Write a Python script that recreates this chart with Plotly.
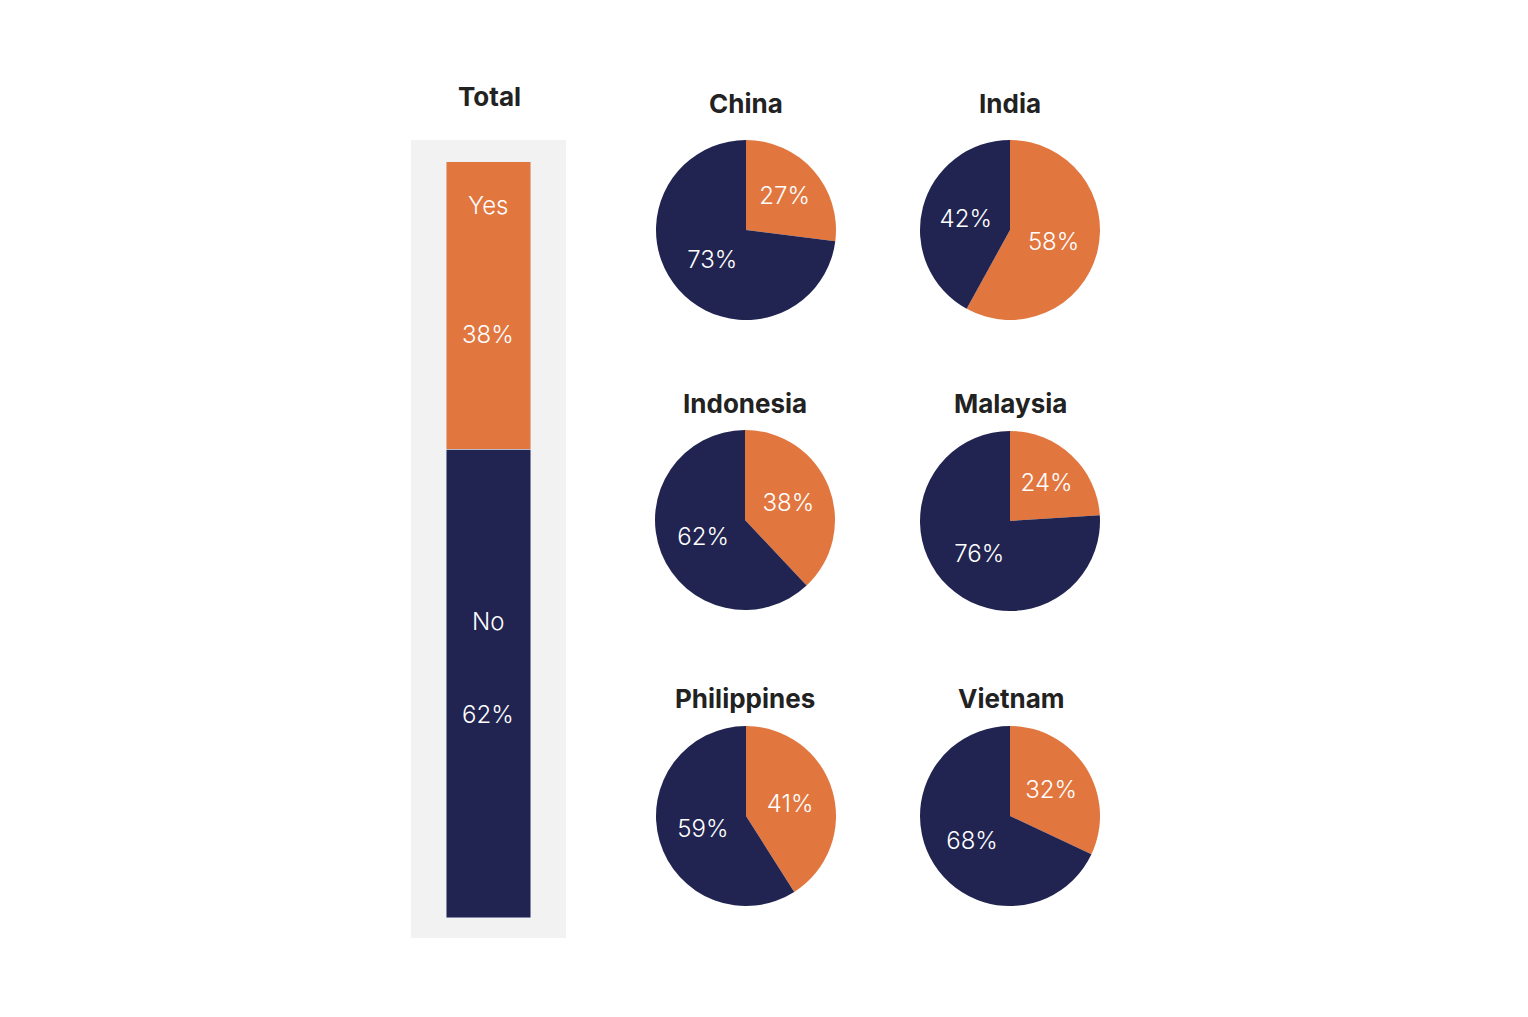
import plotly.graph_objects as go

# survey answer share, Yes / No, in percent
answers = ["Yes", "No"]
total_yes = 38
total_no = 62

countries = ["China", "India", "Indonesia", "Malaysia", "Philippines", "Vietnam"]
yes_share = [27, 58, 38, 24, 41, 32]
no_share = [73, 42, 62, 76, 59, 68]

ORANGE = "#E2763F"
NAVY = "#212450"
PANEL = "#F2F2F2"
W, H = 1528, 1017
PAD = 8  # page body margin
FW, FH = W - 2 * PAD, H - 2 * PAD

TITLE_FONT = dict(family="Inter", size=26, color="#222222", weight=700)
LABEL_FONT = dict(family="Inter", size=24, color="white", weight=300)


def px_x(x):
    return (x - PAD) / FW


def px_y(y):
    return 1 - (y - PAD) / FH


fig = go.Figure()

# stacked total bar: No at the bottom, Yes on top
fig.add_trace(go.Bar(x=[0], y=[total_no], marker_color=NAVY, width=0.548,
                     hoverinfo="skip", name=answers[1]))
fig.add_trace(go.Bar(x=[0], y=[total_yes], marker_color=ORANGE, width=0.548,
                     hoverinfo="skip", name=answers[0]))

# pie grid: centres in pixels
centres = [(746, 230), (1010, 230), (745, 520), (1010, 521), (746, 816), (1010, 816)]
r = 90
for name, yes, no, (cx, cy) in zip(countries, yes_share, no_share, centres):
    fig.add_trace(go.Pie(
        labels=answers, values=[yes, no], sort=False, direction="clockwise",
        rotation=0, marker=dict(colors=[ORANGE, NAVY], line=dict(width=0)),
        texttemplate="%{value}%", textposition="inside",
        insidetextorientation="horizontal", textfont=LABEL_FONT,
        domain=dict(x=[px_x(cx - r), px_x(cx + r)], y=[px_y(cy + r), px_y(cy - r)]),
        hoverinfo="label+percent", showlegend=False,
    ))

title_pos = {"China": (746, 103), "India": (1010, 103), "Indonesia": (745, 403),
             "Malaysia": (1010, 403), "Philippines": (745, 698), "Vietnam": (1011, 698)}
annotations = [dict(text="Total", x=px_x(489), y=px_y(97), xref="paper", yref="paper",
                    xanchor="center", yanchor="middle", showarrow=False, font=TITLE_FONT)]
for name in countries:
    tx, ty = title_pos[name]
    annotations.append(dict(text=name, x=px_x(tx), y=px_y(ty), xref="paper", yref="paper",
                            xanchor="center", yanchor="middle", showarrow=False,
                            font=TITLE_FONT))

# labels inside the total bar (data units)
bar_labels = [("Yes", 94.2), (f"{total_yes}%", 77.2), ("No", 39.2), (f"{total_no}%", 26.9)]
for txt, yv in bar_labels:
    annotations.append(dict(text=txt, x=0, y=yv, xref="x", yref="y", showarrow=False,
                            xanchor="center", yanchor="middle", font=LABEL_FONT))

fig.update_layout(
    width=FW, height=FH, barmode="stack", showlegend=False,
    margin=dict(l=0, r=0, t=0, b=0),
    paper_bgcolor="white", plot_bgcolor=PANEL,
    xaxis=dict(domain=[px_x(411), px_x(566)], range=[-0.5, 0.5], visible=False,
               fixedrange=True),
    yaxis=dict(domain=[px_y(938), px_y(140)], range=[-2.65, 102.9], visible=False,
               fixedrange=True),
    annotations=annotations,
)

fig.write_html("out.html")
